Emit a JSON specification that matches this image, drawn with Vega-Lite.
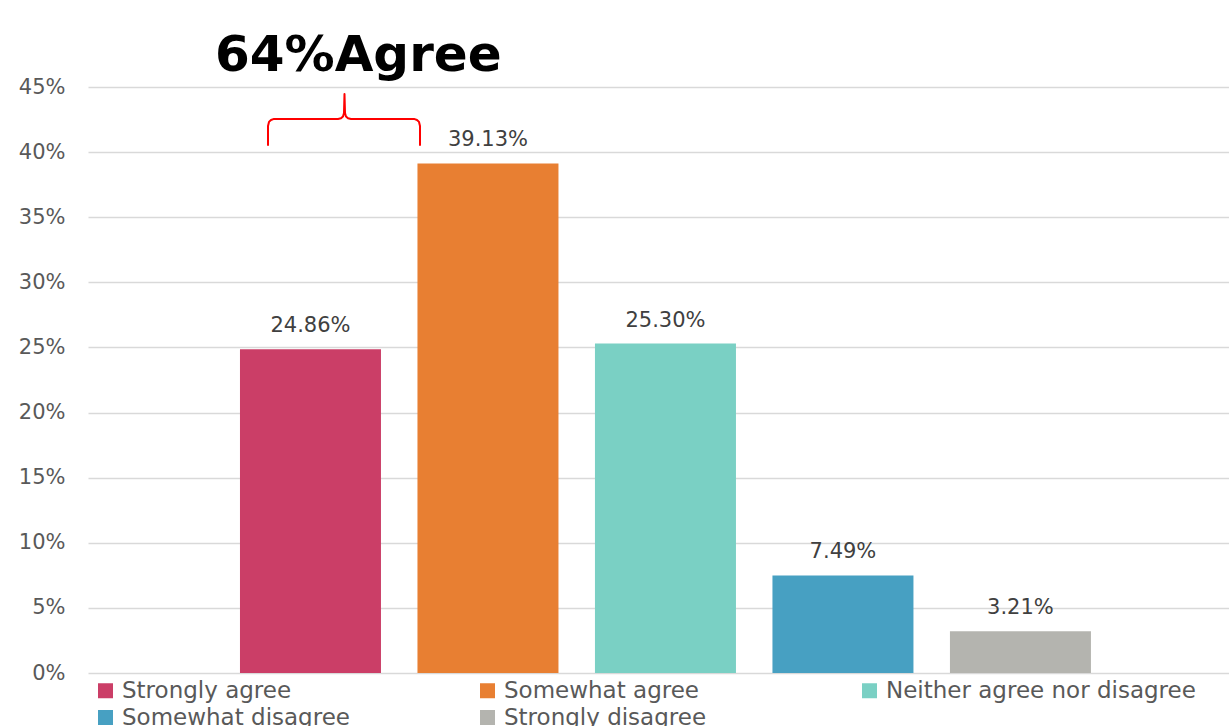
{
  "$schema": "https://vega.github.io/schema/vega-lite/v6.json",
  "width": 1141,
  "height": 586,
  "autosize": {"type": "none"},
  "padding": {"left": 88, "top": 87, "right": 0, "bottom": 53},
  "background": "white",
  "title": {
    "text": "64%Agree",
    "orient": "top",
    "anchor": "start",
    "frame": "group",
    "dx": 127,
    "offset": -45,
    "baseline": "alphabetic",
    "font": "DejaVu Sans",
    "fontSize": 50,
    "fontWeight": "bold",
    "color": "#000000"
  },
  "config": {
    "view": {"stroke": null},
    "font": "DejaVu Sans"
  },
  "resolve": {"scale": {"x": "independent"}},
  "layer": [
    {
      "data": {
        "values": [
          {"category": "Strongly agree", "value": 0.2486},
          {"category": "Somewhat agree", "value": 0.3913},
          {"category": "Neither agree nor disagree", "value": 0.2530},
          {"category": "Somewhat disagree", "value": 0.0749},
          {"category": "Strongly disagree", "value": 0.0321}
        ]
      },
      "encoding": {
        "x": {
          "field": "category",
          "type": "nominal",
          "sort": null,
          "axis": null,
          "scale": {"paddingInner": 0.2056, "paddingOuter": 0.817, "align": 0.524, "round": false}
        },
        "y": {
          "field": "value",
          "type": "quantitative",
          "title": null,
          "scale": {"domain": [0, 0.45], "nice": false},
          "axis": {
            "values": [0, 0.05, 0.1, 0.15, 0.2, 0.25, 0.3, 0.35, 0.4, 0.45],
            "format": ".0%",
            "domain": false,
            "ticks": false,
            "labelPadding": 23,
            "labelFont": "DejaVu Sans",
            "labelFontSize": 21,
            "labelColor": "#595959",
            "gridColor": "#D9D9D9",
            "gridWidth": 1.5
          }
        }
      },
      "layer": [
        {
          "mark": {"type": "bar"},
          "encoding": {
            "color": {
              "field": "category",
              "type": "nominal",
              "sort": null,
              "scale": {
                "domain": ["Strongly agree", "Somewhat agree", "Neither agree nor disagree", "Somewhat disagree", "Strongly disagree"],
                "range": ["#CB3E67", "#E87F32", "#7AD0C4", "#47A0C2", "#B4B4AF"]
              },
              "legend": {
                "title": null,
                "orient": "none",
                "legendX": 6,
                "legendY": 592,
                "direction": "horizontal",
                "columns": 3,
                "gridAlign": "all",
                "columnPadding": 44,
                "rowPadding": 3,
                "padding": 0,
                "symbolType": "square",
                "symbolSize": 225,
                "symbolStrokeWidth": 0,
                "symbolOpacity": 1,
                "labelOffset": 5,
                "labelFont": "DejaVu Sans",
                "labelFontSize": 23,
                "labelColor": "#595959",
                "labelLimit": 500
              }
            }
          }
        },
        {
          "mark": {"type": "text", "baseline": "alphabetic", "dy": -17, "fontSize": 21, "color": "#404040", "font": "DejaVu Sans"},
          "encoding": {
            "text": {"field": "value", "type": "quantitative", "format": ".2%"}
          }
        }
      ]
    },
    {
      "data": {
        "values": [
          {"i": 1, "bx": -0.2394, "value": 0.4055},
          {"i": 2, "bx": -0.2394, "value": 0.4201},
          {"i": 3, "bx": -0.2338, "value": 0.4232},
          {"i": 4, "bx": -0.2225, "value": 0.4247},
          {"i": 5, "bx": -0.2056, "value": 0.4255},
          {"i": 6, "bx": 0.1549, "value": 0.4255},
          {"i": 7, "bx": 0.1718, "value": 0.4260},
          {"i": 8, "bx": 0.1831, "value": 0.4274},
          {"i": 9, "bx": 0.1887, "value": 0.4300},
          {"i": 10, "bx": 0.1915, "value": 0.4446},
          {"i": 11, "bx": 0.1944, "value": 0.4300},
          {"i": 12, "bx": 0.2000, "value": 0.4274},
          {"i": 13, "bx": 0.2113, "value": 0.4260},
          {"i": 14, "bx": 0.2282, "value": 0.4255},
          {"i": 15, "bx": 0.5831, "value": 0.4255},
          {"i": 16, "bx": 0.6000, "value": 0.4247},
          {"i": 17, "bx": 0.6113, "value": 0.4232},
          {"i": 18, "bx": 0.6169, "value": 0.4201},
          {"i": 19, "bx": 0.6169, "value": 0.4055}
        ]
      },
      "mark": {"type": "line", "color": "#FF0000", "strokeWidth": 2, "strokeJoin": "round", "strokeCap": "round"},
      "encoding": {
        "x": {"field": "bx", "type": "quantitative", "axis": null, "scale": {"domain": [-1.2535, 5.1746], "nice": false, "zero": false}},
        "y": {"field": "value", "type": "quantitative"},
        "order": {"field": "i", "type": "quantitative"}
      }
    }
  ]
}
